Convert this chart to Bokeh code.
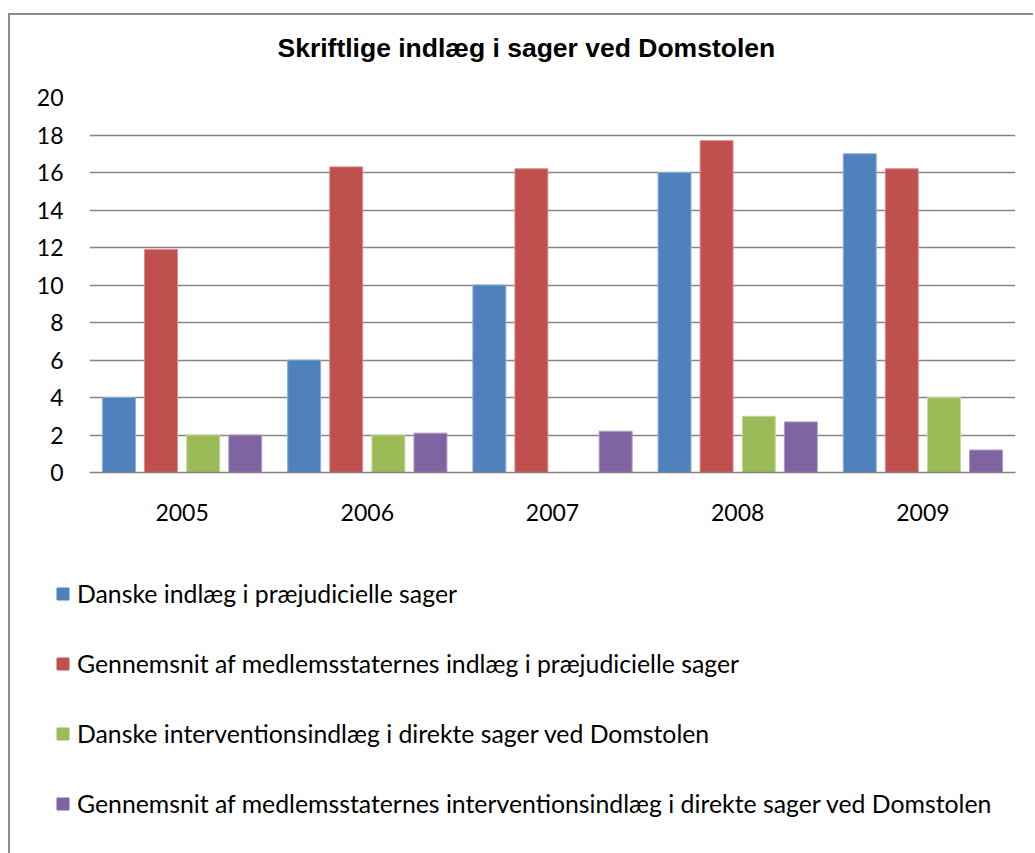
from bokeh.plotting import figure
from bokeh.models import (FactorRange, Range1d, Legend, LegendItem, FixedTicker,
                          ColumnDataSource)
from bokeh.transform import dodge
from bokeh.embed import file_html
from bokeh.resources import INLINE

# ---- data ----
years = ["2005", "2006", "2007", "2008", "2009"]
danske_praejudicielle = [4, 6, 10, 16, 17]
gennemsnit_praejudicielle = [11.9, 16.3, 16.2, 17.7, 16.2]
danske_intervention = [2, 2, 0, 3, 4]
gennemsnit_intervention = [2.0, 2.1, 2.2, 2.7, 1.2]
series_names = [
    "Danske indlæg i præjudicielle sager",
    "Gennemsnit af medlemsstaternes indlæg i præjudicielle sager",
    "Danske interventionsindlæg i direkte sager ved Domstolen",
    "Gennemsnit af medlemsstaternes interventionsindlæg i direkte sager ved Domstolen",
]
y_ticks = [0, 2, 4, 6, 8, 10, 12, 14, 16, 18, 20]
title_text = "Skriftlige indlæg i sager ved Domstolen"

# ---- styles ----
fill_colors = ["#4F81BD", "#C0504D", "#9BBB59", "#8064A2"]
edge_colors = ["#8DAED6", "#DB8E8C", "#C3D99A", "#AE9BC6"]
offsets = [-0.341, -0.114, 0.114, 0.341]
bar_width = 0.178
grid_color = "#868686"
frame_border = "2px solid #8c8c8c"
keys = ["s0", "s1", "s2", "s3"]

source = ColumnDataSource(dict(
    years=years,
    s0=danske_praejudicielle,
    s1=gennemsnit_praejudicielle,
    s2=danske_intervention,
    s3=gennemsnit_intervention,
))

# ---- title strip ----
t = figure(
    width=1025, height=68,
    min_border_left=0, min_border_right=0, min_border_top=0, min_border_bottom=0,
    x_axis_type=None, y_axis_type=None,
    output_backend="svg", toolbar_location=None,
    title=title_text,
)
t.margin = (13, 0, 0, 8)
t.styles = {"border-left": frame_border, "border-top": frame_border}
t.outline_line_color = None
t.background_fill_color = "white"
t.border_fill_color = "white"
t.grid.grid_line_color = None
t.title.text_font = "Liberation Sans"
t.title.text_font_style = "bold"
t.title.text_font_size = "26.5px"
t.title.text_color = "#000000"
t.title.align = "left"
t.title.offset = 267
t.title.standoff = 31

# ---- main chart ----
p = figure(
    x_range=FactorRange(*years, range_padding=0),
    y_range=Range1d(0, 20),
    width=1025, height=461,
    min_border_left=79, min_border_right=20,
    min_border_top=16, min_border_bottom=70,
    output_backend="svg", toolbar_location=None,
)
p.margin = (0, 0, 0, 8)
p.styles = {"border-left": frame_border}
p.outline_line_color = None
p.background_fill_color = "white"
p.border_fill_color = "white"

renderers = []
for i, key in enumerate(keys):
    r = p.vbar(
        x=dodge("years", offsets[i], range=p.x_range), top=key, width=bar_width,
        source=source, fill_color=fill_colors[i], line_color=edge_colors[i], line_width=1,
    )
    renderers.append(r)

p.yaxis.ticker = FixedTicker(ticks=y_ticks)
p.yaxis.axis_line_color = None
p.yaxis.major_tick_line_color = None
p.yaxis.minor_tick_line_color = None
p.yaxis.major_label_standoff = 20
p.yaxis.major_label_text_font = "Lato"
p.yaxis.major_label_text_font_size = "23px"
p.yaxis.major_label_text_color = "#000000"

p.xaxis.axis_line_color = grid_color
p.xaxis.axis_line_width = 1.5
p.xaxis.major_tick_line_color = None
p.xaxis.minor_tick_line_color = None
p.xaxis.major_label_standoff = 25
p.xaxis.major_label_text_font = "Lato"
p.xaxis.major_label_text_font_size = "23px"
p.xaxis.major_label_text_color = "#000000"

p.xgrid.grid_line_color = None
p.ygrid.grid_line_color = grid_color
p.ygrid.grid_line_width = 1.5

# ---- legend strip ----
lg = figure(
    x_range=FactorRange(*years, range_padding=0),
    y_range=Range1d(0, 20),
    width=1025, height=311,
    min_border_left=0, min_border_right=0, min_border_top=0, min_border_bottom=0,
    x_axis_type=None, y_axis_type=None,
    output_backend="svg", toolbar_location=None,
)
lg.margin = (0, 0, 0, 8)
lg.styles = {"border-left": frame_border}
lg.outline_line_color = None
lg.background_fill_color = "white"
lg.border_fill_color = "white"
lg.grid.grid_line_color = None

proxies = []
for i, key in enumerate(keys):
    r = lg.vbar(
        x=dodge("years", offsets[i], range=lg.x_range), top=key, width=bar_width,
        source=source, fill_color=fill_colors[i], line_color=fill_colors[i], line_width=1,
        visible=False,
    )
    proxies.append(r)

items = [LegendItem(label=series_names[i], renderers=[proxies[i]]) for i in range(4)]
legend = Legend(
    items=items,
    location=(45, 35),
    orientation="vertical",
    glyph_width=15, glyph_height=15,
    label_height=24, spacing=41,
    label_standoff=7,
    padding=0, margin=0,
    border_line_color=None,
    background_fill_alpha=0,
    inactive_fill_alpha=0,
    click_policy="none",
    label_text_font="Lato",
    label_text_font_size="24.8px",
    label_text_color="#000000",
)
lg.add_layout(legend, "center")

open("out.html", "w").write(file_html([t, p, lg], INLINE))
